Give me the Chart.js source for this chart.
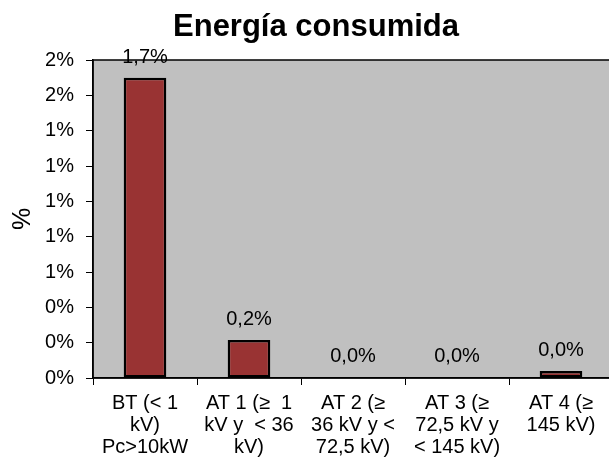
<!DOCTYPE html>
<html>
<head>
<meta charset="utf-8">
<script src="https://cdn.jsdelivr.net/npm/chart.js@4.4.1/dist/chart.umd.min.js"></script>
<style>
    html, body { margin: 0; padding: 0; background: #fff; overflow: hidden; }
    #wrap { width: 613px; height: 463px; }
</style>
</head>
<body>
<div id="wrap"><canvas id="energyChart" width="613" height="463"></canvas></div>
<script>
const chartTitle = 'Energía consumida';
const categories = [
    ['BT (< 1', 'kV)', 'Pc>10kW'],
    ['AT 1 (≥  1', 'kV y  < 36', 'kV)'],
    ['AT 2 (≥', '36 kV y <', '72,5 kV)'],
    ['AT 3 (≥', '72,5 kV y', '< 145 kV)'],
    ['AT 4 (≥', '145 kV)']
];
const consumo = [1.7, 0.215, 0.003, 0.003, 0.04];
const valueLabels = ['1,7%', '0,2%', '0,0%', '0,0%', '0,0%'];
const yTickValues = [0, 0.2, 0.4, 0.6, 0.8, 1.0, 1.2, 1.4, 1.6, 1.8];

const FONT = '"Liberation Sans", Arial, sans-serif';

// grey plot area with black frame
const plotBackground = {
    id: 'plotBackground',
    beforeDraw(chart) {
        const { ctx, chartArea: a } = chart;
        ctx.save();
        ctx.fillStyle = '#C0C0C0';
        ctx.fillRect(a.left, a.top, a.right - a.left, a.bottom - a.top);
        ctx.strokeStyle = '#000';
        ctx.lineWidth = 1.5;
        ctx.strokeRect(a.left, a.top, a.right - a.left, a.bottom - a.top);
        ctx.restore();
    }
};

// value labels above bars + title
const barLabels = {
    id: 'barLabels',
    afterDatasetsDraw(chart) {
        const { ctx } = chart;
        const meta = chart.getDatasetMeta(0);
        ctx.save();
        ctx.font = '20px ' + FONT;
        ctx.fillStyle = '#000';
        ctx.textAlign = 'center';
        ctx.textBaseline = 'alphabetic';
        meta.data.forEach((bar, i) => {
            ctx.fillText(valueLabels[i], bar.x, bar.y - 15);
        });
        ctx.font = 'bold 31px ' + FONT;
        ctx.fillText(chartTitle, 316, 36);
        ctx.restore();
    }
};

document.addEventListener('DOMContentLoaded', () => {
    const ctx = document.getElementById('energyChart').getContext('2d');
    new Chart(ctx, {
        type: 'bar',
        data: {
            labels: categories,
            datasets: [{
                data: consumo,
                backgroundColor: '#993333',
                borderColor: '#000',
                borderWidth: 2.5,
                borderSkipped: false,
                barPercentage: 0.41,
                categoryPercentage: 1
            }]
        },
        options: {
            responsive: false,
            animation: false,
            layout: { padding: { top: 60, left: 0, right: 0, bottom: 0 } },
            plugins: {
                legend: { display: false },
                title: { display: false },
                tooltip: { enabled: false }
            },
            scales: {
                x: {
                    grid: { display: true, drawOnChartArea: false, drawTicks: true, tickLength: 7, color: '#000', offset: true },
                    border: { display: true, color: '#000', width: 1.5 },
                    ticks: {
                        color: '#000',
                        padding: 8,
                        maxRotation: 0,
                        autoSkip: false,
                        font: { family: FONT, size: 20, lineHeight: 1.08 }
                    },
                    afterFit(scale) { scale.height = 85; }
                },
                y: {
                    min: 0,
                    max: 1.8,
                    grid: { display: true, drawOnChartArea: false, drawTicks: true, tickLength: 7, color: '#000' },
                    border: { display: true, color: '#000', width: 1.5 },
                    afterBuildTicks(scale) {
                        scale.ticks = yTickValues.map(v => ({ value: v }));
                    },
                    ticks: {
                        color: '#000',
                        padding: 12,
                        font: { family: FONT, size: 20 },
                        callback: v => Math.round(v) + '%'
                    },
                    title: {
                        display: true,
                        text: '%',
                        color: '#000',
                        padding: { top: 8, bottom: 0 },
                        font: { family: FONT, size: 25 }
                    },
                    afterFit(scale) { scale.width = 93; }
                }
            }
        },
        plugins: [plotBackground, barLabels]
    });
});
</script>
</body>
</html>
